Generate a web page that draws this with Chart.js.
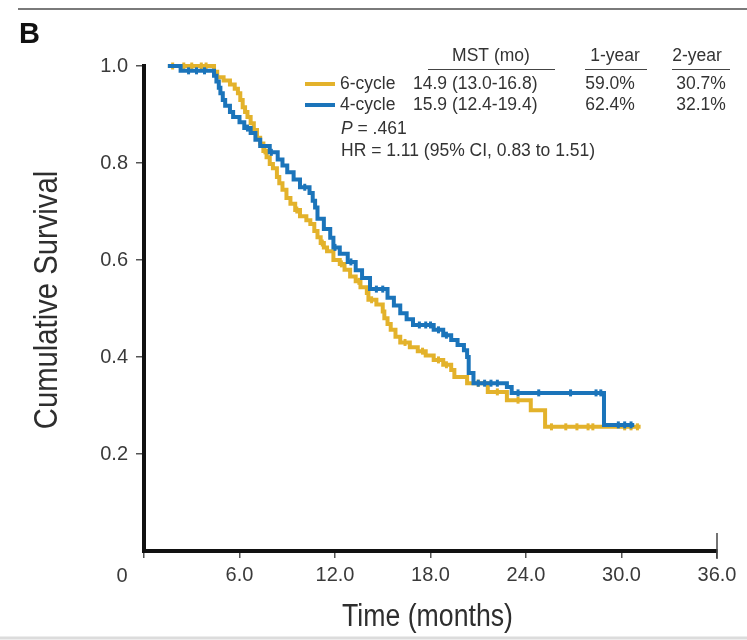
<!DOCTYPE html>
<html><head><meta charset="utf-8">
<script src="https://cdn.jsdelivr.net/npm/chart.js@4.4.0/dist/chart.umd.min.js"></script>
<style>html,body{margin:0;padding:0;background:#fff;}#wrap{width:747px;height:640px;position:relative;}</style>
</head><body><div id="wrap"><canvas id="c" width="747" height="640"></canvas></div>
<script>
// ---- data ----
const seriesNames = ['6-cycle', '4-cycle'];
const sixCycleTimes = [1.5,4.4,4.6,5.0,5.4,5.7,5.9,6.05,6.2,6.35,6.5,6.7,6.9,7.1,7.3,7.5,7.7,7.9,8.1,8.35,8.5,8.7,8.95,9.2,9.5,9.8,10.2,10.45,10.7,10.9,11.1,11.3,11.5,11.9,12.3,12.6,12.95,13.3,13.6,14.0,14.1,14.6,15.0,15.1,15.3,15.5,15.8,16.1,16.7,17.2,17.7,18.2,18.8,19.3,19.5,20.3,21.6,22.8,24.3,25.2,31.2];
const sixCycleSurvival = [1.0,0.988,0.977,0.97,0.962,0.953,0.944,0.93,0.915,0.905,0.895,0.882,0.868,0.852,0.84,0.825,0.812,0.798,0.789,0.771,0.758,0.745,0.728,0.716,0.703,0.69,0.682,0.674,0.66,0.647,0.635,0.626,0.618,0.6,0.592,0.58,0.566,0.556,0.544,0.532,0.518,0.508,0.494,0.48,0.468,0.456,0.442,0.43,0.42,0.412,0.403,0.394,0.384,0.373,0.359,0.346,0.328,0.311,0.29,0.256,0.256];
const fourCycleTimes = [1.5,2.3,4.4,4.55,4.7,4.8,4.95,5.1,5.4,5.6,6.0,6.3,6.7,7.0,7.3,7.9,8.4,8.7,9.0,9.4,9.8,10.4,10.6,10.75,10.9,11.3,11.7,11.9,12.3,12.8,13.3,13.7,14.2,15.3,15.7,16.1,16.5,16.9,18.2,18.8,19.3,19.7,20.1,20.3,20.4,20.7,22.8,23.1,28.9,30.8];
const fourCycleSurvival = [1.0,0.99,0.98,0.968,0.955,0.944,0.93,0.918,0.905,0.895,0.884,0.872,0.862,0.848,0.835,0.822,0.807,0.795,0.781,0.766,0.75,0.738,0.722,0.708,0.685,0.664,0.646,0.626,0.613,0.596,0.579,0.563,0.54,0.522,0.506,0.49,0.478,0.466,0.456,0.445,0.435,0.425,0.414,0.4,0.367,0.346,0.338,0.326,0.26,0.26];
const sixCycleCensorTimes = [1.8,2.5,3.0,3.6,3.9,7.6,9.6,11.2,12.4,13.5,14.3,16.4,17.5,18.5,19.0,21.0,22.2,23.5,25.6,26.5,27.2,27.9,28.2,30.2,30.6,31.0];
const fourCycleCensorTimes = [2.8,3.3,3.8,6.5,8.0,10.1,12.0,13.0,14.6,15.0,17.3,17.7,18.0,18.5,19.0,21.0,21.4,21.8,22.2,23.5,24.8,26.8,28.4,28.7,29.8,30.2,30.6];
const xTickValues = [0, 6, 12, 18, 24, 30, 36];
const yTickValues = [0.2, 0.4, 0.6, 0.8, 1.0];
const tableHeaders = ['MST (mo)', '1-year', '2-year'];
const tableRows = [['14.9 (13.0-16.8)', '59.0%', '30.7%'], ['15.9 (12.4-19.4)', '62.4%', '32.1%']];
const pValueText = ' = .461';
const hrText = 'HR = 1.11 (95% CI, 0.83 to 1.51)';
const panelLabel = 'B';
const xTitle = 'Time (months)';
const yTitle = 'Cumulative Survival';

const COLORS = ['#E3B22B', '#1B74BA'];
const SANS = '"Liberation Sans", Arial, sans-serif';

function toPoints(ts, ss) { return ts.map((t, i) => ({x: t, y: ss[i]})); }
function stepValue(ts, ss, t) { let v = ss[0]; for (let i = 0; i < ts.length; i++) { if (ts[i] <= t) v = ss[i]; } return v; }
function censorPoints(cts, ts, ss) { return cts.map(t => ({x: t, y: stepValue(ts, ss, t)})); }

const curves = [[sixCycleTimes, sixCycleSurvival, sixCycleCensorTimes], [fourCycleTimes, fourCycleSurvival, fourCycleCensorTimes]];
const datasets = [];
curves.forEach((c, i) => {
  datasets.push({label: seriesNames[i], data: toPoints(c[0], c[1]), showLine: true, stepped: true,
    borderColor: COLORS[i], borderWidth: 4, pointRadius: 0, clip: false, order: 2 - i});
});
curves.forEach((c, i) => {
  datasets.push({label: seriesNames[i] + ' censored', data: censorPoints(c[2], c[0], c[1]), showLine: false,
    pointStyle: 'line', rotation: 90, pointRadius: 3.5, borderWidth: 3, borderColor: COLORS[i], backgroundColor: COLORS[i], clip: false, order: 2 - i});
});

function condensedText(ctx, text, x, y, size, squeeze, angle) {
  ctx.save();
  ctx.translate(x, y);
  if (angle) ctx.rotate(angle);
  ctx.scale(squeeze, 1);
  ctx.font = size + 'px ' + SANS;
  ctx.textAlign = 'center'; ctx.textBaseline = 'middle';
  ctx.fillText(text, 0, 0);
  ctx.restore();
}

const extras = {
  id: 'extras',
  afterDraw(chart) {
    const ctx = chart.ctx, xs = chart.scales.x, ca = chart.chartArea;
    ctx.save();
    // top rule
    ctx.strokeStyle = '#7a7a7a'; ctx.lineWidth = 2;
    ctx.beginPath(); ctx.moveTo(18, 9); ctx.lineTo(747, 9); ctx.stroke();
    // bottom rule
    ctx.strokeStyle = '#dcdcdc'; ctx.lineWidth = 3;
    ctx.beginPath(); ctx.moveTo(0, 638); ctx.lineTo(747, 638); ctx.stroke();
    // panel label
    ctx.fillStyle = '#111'; ctx.font = 'bold 29px ' + SANS; ctx.textBaseline = 'alphabetic'; ctx.textAlign = 'left';
    ctx.fillText(panelLabel, 19, 43);
    // origin label
    ctx.fillStyle = '#3a3a3a'; ctx.font = '20px ' + SANS; ctx.textAlign = 'center'; ctx.textBaseline = 'middle';
    ctx.fillText(String(xTickValues[0]), 122, 576);
    // end cap at 36
    const xe = xs.getPixelForValue(xTickValues[xTickValues.length - 1]);
    ctx.strokeStyle = '#444'; ctx.lineWidth = 1.5;
    ctx.beginPath(); ctx.moveTo(xe, 533); ctx.lineTo(xe, 559); ctx.stroke();
    // axis titles (condensed)
    ctx.fillStyle = '#2e2e2e';
    condensedText(ctx, xTitle, (ca.left + ca.right) / 2 - 3, 617, 31, 0.86, 0);
    condensedText(ctx, yTitle, 48, 300, 34, 0.86, -Math.PI / 2);
    // legend table
    ctx.fillStyle = '#333'; ctx.font = '17.5px ' + SANS; ctx.textBaseline = 'middle';
    const colC = [491, 615, 697];
    const ulX = [[428, 555], [585, 647], [672, 730]];
    const headY = 56, rowY = [84, 105];
    ctx.textAlign = 'center';
    tableHeaders.forEach((h, i) => ctx.fillText(h, colC[i], headY));
    ctx.strokeStyle = '#444'; ctx.lineWidth = 1.2;
    ulX.forEach(u => { ctx.beginPath(); ctx.moveTo(u[0], 69.5); ctx.lineTo(u[1], 69.5); ctx.stroke(); });
    rowY.forEach((y, r) => {
      ctx.strokeStyle = COLORS[r]; ctx.lineWidth = 4;
      ctx.beginPath(); ctx.moveTo(305, y); ctx.lineTo(335, y); ctx.stroke();
      ctx.fillStyle = '#333'; ctx.textAlign = 'left';
      ctx.fillText(seriesNames[r], 340, y);
      ctx.fillText(tableRows[r][0], 413, y);
      ctx.textAlign = 'center';
      ctx.fillText(tableRows[r][1], 610, y);
      ctx.fillText(tableRows[r][2], 701, y);
    });
    ctx.textAlign = 'left';
    ctx.font = 'italic 17.5px ' + SANS;
    ctx.fillText('P', 341, 129);
    const pw = ctx.measureText('P').width;
    ctx.font = '17.5px ' + SANS;
    ctx.fillText(pValueText, 341 + pw, 129);
    ctx.fillText(hrText, 341, 151);
    ctx.restore();
  }
};

new Chart(document.getElementById('c'), {
  type: 'scatter',
  data: {datasets},
  options: {
    responsive: false, devicePixelRatio: 1, animation: false,
    layout: {padding: {top: 66, right: 30, left: 0, bottom: 0}},
    plugins: {legend: {display: false}, tooltip: {enabled: false}},
    scales: {
      x: {type: 'linear', min: 0, max: 36,
        afterBuildTicks: s => { s.ticks = xTickValues.map(v => ({value: v})); },
        afterFit: s => { s.height = 89; },
        ticks: {color: '#3a3a3a', font: {family: SANS, size: 20}, padding: 5, maxRotation: 0,
          callback: v => v === 0 ? '' : v.toFixed(1)},
        grid: {display: true, drawOnChartArea: false, drawTicks: true, tickLength: 7, color: '#555', lineWidth: 1.5},
        border: {display: true, color: '#111', width: 4},
        title: {display: false}
      },
      y: {type: 'linear', min: 0, max: 1,
        afterBuildTicks: s => { s.ticks = yTickValues.map(v => ({value: v})); },
        afterFit: s => { s.width = 144; },
        ticks: {color: '#3a3a3a', font: {family: SANS, size: 20}, padding: 8, callback: v => v.toFixed(1)},
        grid: {display: true, drawOnChartArea: false, drawTicks: true, tickLength: 8, color: '#555', lineWidth: 1.5},
        border: {display: true, color: '#111', width: 4},
        title: {display: false}
      }
    }
  },
  plugins: [extras]
});
</script>
</body></html>
